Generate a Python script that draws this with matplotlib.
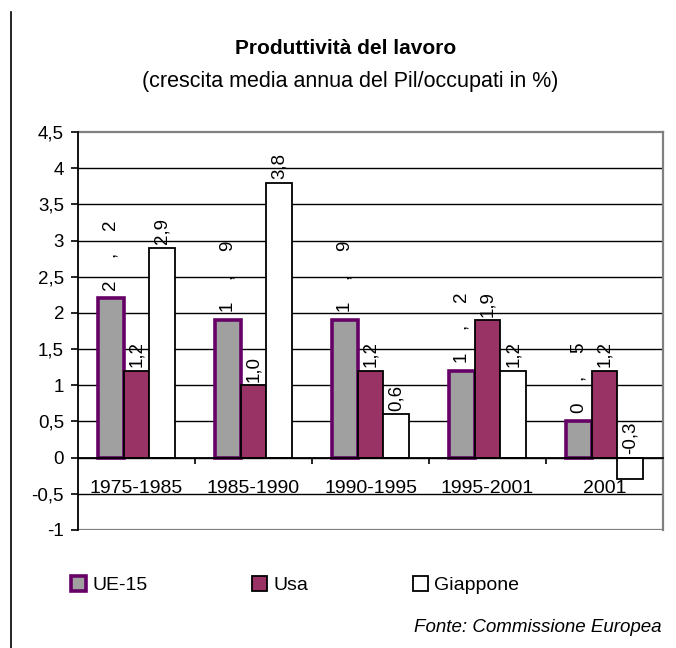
import matplotlib
matplotlib.use("Agg")
import matplotlib.pyplot as plt
import numpy as np
from matplotlib.lines import Line2D

plt.rcParams['font.family'] = ['Liberation Sans', 'DejaVu Sans']

categories = ["1975-1985", "1985-1990", "1990-1995", "1995-2001", "2001"]
series_names = ["UE-15", "Usa", "Giappone"]
ue15 = [2.2, 1.9, 1.9, 1.2, 0.5]
usa = [1.2, 1.0, 1.2, 1.9, 1.2]
giappone = [2.9, 3.8, 0.6, 1.2, -0.3]
yticks = [-1, -0.5, 0, 0.5, 1, 1.5, 2, 2.5, 3, 3.5, 4, 4.5]

title = "Produttività del lavoro"
subtitle = "(crescita media annua del Pil/occupati in %)"
source = "Fonte: Commissione Europea"

face_colors = ["#A0A0A0", "#993366", "#FFFFFF"]
edge_colors = ["#660066", "#000000", "#000000"]
edge_widths = [2.6, 1.3, 1.3]

def fmt(v):
    return ("%.1f" % v).replace(".", ",")

fig = plt.figure(figsize=(6.76, 6.48), dpi=100)
ax = fig.add_axes([78 / 676, 1 - 530 / 648, 585 / 676, 398 / 648])

x = np.arange(len(categories))
w = 0.222
offsets = [-w, 0, w]
all_series = [ue15, usa, giappone]

ax.set_xlim(-0.5, len(categories) - 0.5)
ax.set_ylim(-1, 4.5)

# gridlines
for yv in yticks[1:-1]:
    ax.axhline(yv, color="black", lw=1.0, zorder=1)
ax.axhline(-1, color="#808080", lw=1.6, zorder=1)

containers = []
for i, vals in enumerate(all_series):
    bc = ax.bar(x + offsets[i], vals, width=w, color=face_colors[i],
                edgecolor=edge_colors[i], linewidth=edge_widths[i], zorder=3,
                label=series_names[i])
    containers.append(bc)

# value labels
for i, vals in enumerate(all_series):
    for xi, v in zip(x, vals):
        s = fmt(v)
        base = max(v, 0)
        if i == 0:
            # characters stacked vertically (as in the original export)
            for k, ch in enumerate(s):
                ax.annotate(ch, (xi + offsets[i], base), xytext=(0, 10 + 21.6 * k),
                            textcoords="offset points", rotation=90,
                            ha="center", va="center", fontsize=13.5, zorder=5)
        else:
            ax.annotate(s, (xi + offsets[i], base), xytext=(0, 2.5),
                        textcoords="offset points", rotation=90,
                        ha="center", va="bottom", fontsize=13.5, zorder=5)

# category labels
for xi, c in zip(x, categories):
    ax.text(xi, -0.43, c, ha="center", va="center", fontsize=14, zorder=5)

# axes styling
for s in ["top", "right"]:
    ax.spines[s].set_color("#808080")
    ax.spines[s].set_linewidth(1.6)
ax.spines["left"].set_color("black")
ax.spines["left"].set_linewidth(1.3)
ax.spines["bottom"].set_position(("data", 0))
ax.spines["bottom"].set_color("black")
ax.spines["bottom"].set_linewidth(1.3)
ax.spines["left"].set_zorder(4)
ax.spines["bottom"].set_zorder(4)

ax.set_yticks(yticks)
ax.set_yticklabels([("%g" % t).replace(".", ",") for t in yticks], fontsize=13.5)
ax.tick_params(axis="y", direction="out", length=5, width=1.2, pad=5)
ax.set_xticks(np.arange(0.5, len(categories) - 0.5, 1.0))
ax.set_xticklabels([])
ax.tick_params(axis="x", direction="out", length=4, width=1.2)

# titles
fig.text(346 / 676, 1 - 48 / 648, title, ha="center", va="center", fontsize=15, fontweight="bold")
fig.text(350 / 676, 1 - 81 / 648, subtitle, ha="center", va="center", fontsize=15.5)
fig.text(662 / 676, 1 - 628 / 648, source, ha="right", va="center", fontsize=13.5, style="italic")

# legend
fig.legend(containers, series_names, loc="center left", ncol=3,
           bbox_to_anchor=(71 / 676, 1 - 585 / 648), frameon=False,
           fontsize=14, handlelength=0.78, handleheight=0.78,
           handletextpad=0.3, columnspacing=5.4, borderpad=0, borderaxespad=0)

# left margin line
fig.add_artist(Line2D([11 / 676, 11 / 676], [0, 1 - 12 / 648], color="black", lw=1.2))

fig.savefig("out.png", dpi=100)
